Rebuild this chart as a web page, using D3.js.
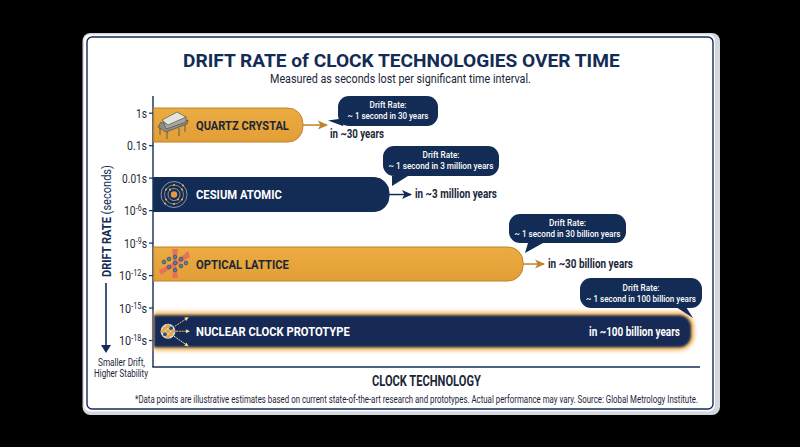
<!DOCTYPE html>
<html><head><meta charset="utf-8">
<script src="https://cdn.jsdelivr.net/npm/d3@7/dist/d3.min.js"></script>
<style>html,body{margin:0;padding:0;background:#000}svg{display:block}text{font-family:Roboto,"Open Sans",sans-serif}</style>
</head><body><svg id="c" width="800" height="447"></svg>
<script>
// ---- data ----
const categories = ["QUARTZ CRYSTAL","CESIUM ATOMIC","OPTICAL LATTICE","NUCLEAR CLOCK PROTOTYPE"];
const barLengths = [27.5, 43.3, 67.9, 98.9];           // share of the x axis
const barCentres = [0.38, 2.52, 4.66, 6.73];           // position in tick steps
const tickLabels = ["1s","0.1s","0.01s","10^-6s","10^-9s","10^-12s","10^-15s","10^-18s"];
const reachLabels = ["in ~30 years","in ~3 million years","in ~30 billion years","in ~100 billion years"];
const calloutLabels = ["~ 1 second in 30 years","~ 1 second in 3 million years","~ 1 second in 30 billion years","~ 1 second in 100 billion years"];

const NAVY="#132c55", ORANGE="#e8a63a", EDGE="#c2822a", INK="#1b2738";
const svg=d3.select("#c");
const defs=svg.append("defs");
const g1=defs.append("linearGradient").attr("id","og").attr("x1",0).attr("y1",0).attr("x2",0).attr("y2",1);
g1.append("stop").attr("offset",0).attr("stop-color","#ecac42");
g1.append("stop").attr("offset",1).attr("stop-color","#e29e36");
defs.append("filter").attr("id","glow").attr("x","-5%").attr("y","-30%").attr("width","110%").attr("height","160%")
  .append("feGaussianBlur").attr("stdDeviation",2.2);
defs.append("filter").attr("id","soft").attr("x","-5%").attr("y","-20%").attr("width","110%").attr("height","140%")
  .append("feGaussianBlur").attr("stdDeviation",0.9);
[["ah-o",EDGE],["ah-n",NAVY]].forEach(([id,c])=>{
  defs.append("marker").attr("id",id).attr("viewBox","0 0 10 10").attr("refX",9).attr("refY",5)
   .attr("markerUnits","userSpaceOnUse").attr("markerWidth",10).attr("markerHeight",10).attr("orient","auto")
   .append("path").attr("d","M0,0.5L10,5L0,9.5L2.5,5Z").attr("fill",c);
});

// ---- card ----
svg.append("rect").attr("width",800).attr("height",447).attr("fill","#000");
svg.append("rect").attr("x",82.5).attr("y",33).attr("width",637.5).attr("height",382).attr("rx",8).attr("fill","#d4d7dc");
svg.append("rect").attr("x",84).attr("y",34.5).attr("width",631).attr("height",377).attr("rx",6).attr("fill","#fff");
svg.append("rect").attr("x",87).attr("y",37).attr("width",626).attr("height",372).attr("rx",5).attr("fill","#fff").attr("stroke",NAVY).attr("stroke-width",1.4);

// text narrowed to the reference's condensed width by a horizontal scale
function squeeze(t,px,py,w,rot){
  const natural=t.node().getComputedTextLength();
  t.attr("transform",`translate(${px},${py})${rot?` rotate(${rot})`:""} scale(${w/natural},1)`);
  return t;
}
function label(x,y,txt,size,w,weight,fill,anchor){
  const t=svg.append("text").attr("font-size",size).attr("font-weight",weight||400)
    .attr("fill",fill||INK).attr("text-anchor",anchor||"start").text(txt);
  return squeeze(t,x,y,w);
}
label(183,66.5,"DRIFT RATE of CLOCK TECHNOLOGIES OVER TIME",19,437,700,NAVY);
label(270,82.5,"Measured as seconds lost per significant time interval.",12.2,261,400,INK);

// ---- scales ----
const x=d3.scaleLinear().domain([0,100]).range([153,698]);
const yStep=d3.scaleLinear().domain([0,7]).range([112.7,340]);
const y=d3.scalePoint().domain(tickLabels).range([112.7,340]);
const BAR_H=34;

// ---- axes ----
const gy=svg.append("g").attr("transform","translate(153,0)").call(d3.axisLeft(y).tickSize(4).tickPadding(2).tickFormat(""));
gy.select(".domain").remove();
gy.selectAll(".tick line").attr("stroke",NAVY).attr("stroke-width",1.2);
gy.selectAll(".tick").each(function(d){
  const tk=d3.select(this); tk.select("text").remove();
  const t=tk.append("text").attr("font-size",12.5).attr("font-family","Roboto").attr("fill",INK).attr("text-anchor","end").attr("dy","0.36em");
  const m=/^10\^(-\d+)s$/.exec(d);
  if(m){ t.append("tspan").text("10");
    t.append("tspan").attr("font-size",8.5).attr("dy",-4).text(m[1]);
    t.append("tspan").attr("dy",4).text("s");
  } else t.text(d);
  const w=m?(m[1].length>2?28:23):({"1s":11,"0.1s":20,"0.01s":25})[d];
  const n=t.node().getComputedTextLength();
  t.attr("transform",`translate(-6,0) scale(${w/n},1)`);
});
svg.append("line").attr("x1",153).attr("x2",153).attr("y1",96).attr("y2",367).attr("stroke",NAVY).attr("stroke-width",1.4);
svg.append("line").attr("x1",152.3).attr("x2",700).attr("y1",367).attr("y2",367).attr("stroke",NAVY).attr("stroke-width",1.4);

label(372,386,"CLOCK TECHNOLOGY",14,109,700,INK);
label(135,403,"*Data points are illustrative estimates based on current state-of-the-art research and prototypes. Actual performance may vary. Source: Global Metrology Institute.",10.5,564,400,INK);

// y axis title
const yt=svg.append("text").attr("font-size",13.5).attr("fill",NAVY);
yt.append("tspan").attr("font-weight",700).text("DRIFT RATE ");
yt.append("tspan").attr("font-weight",400).text("(seconds)");
squeeze(yt,111,277,112,-90);
svg.append("line").attr("x1",106).attr("x2",106).attr("y1",283).attr("y2",347).attr("stroke",NAVY).attr("stroke-width",1.6);
svg.append("path").attr("d",d3.line()([[101,345],[111,345],[106,353]])+"Z").attr("fill",NAVY);
label(121.5,366,"Smaller Drift,",10,47,400,INK,"middle");
label(121,377,"Higher Stability",10,54,400,INK,"middle");

// ---- bars ----
function barPath(x0,x1,y0,y1,r){
  return `M${x0},${y0}H${x1-r}A${r},${r} 0 0 1 ${x1},${y0+r}V${y1-r}A${r},${r} 0 0 1 ${x1-r},${y1}H${x0}Z`;
}
const layers=svg.append("g");
const bars=categories.map((c,i)=>{
  const cy=yStep(barCentres[i]), x1=x(barLengths[i]);
  return {c,i,cy,x1,y0:cy-BAR_H/2,y1:cy+BAR_H/2,odd:i%2===1};
});
bars.filter(b=>b.i===3).forEach(b=>{
  layers.append("path").attr("d",barPath(x(0)+1,b.x1+2,b.y0-2,b.y1+2,15)).attr("fill","#f0ae50").attr("filter","url(#glow)");
});
layers.selectAll("path.bar").data(bars).join("path").attr("class","bar")
  .attr("d",b=>b.i===3?barPath(x(0)+1,b.x1-1,b.y0+1,b.y1-1,12):barPath(x(0)+.7,b.x1,b.y0,b.y1,15))
  .attr("fill",b=>b.odd?NAVY:"url(#og)")
  .attr("stroke",b=>b.odd?(b.i===3?"none":NAVY):EDGE).attr("stroke-width",1)
  .attr("filter",b=>b.i===3?"url(#soft)":null);
const labelW=[93,86,93,154], labelFill=[INK,"#fff",INK,"#fff"], labelDy=[5,4.5,5,4.5];
bars.forEach((b,i)=>label(196,b.cy+labelDy[i],b.c,13.5,labelW[i],700,labelFill[i]));

// ---- arrows to reach labels ----
const arrowLen=[24,22,21];
bars.slice(0,3).forEach((b,i)=>{
  svg.append("line").attr("x1",b.x1).attr("x2",b.x1+arrowLen[i]).attr("y1",b.cy).attr("y2",b.cy)
    .attr("stroke",b.odd?NAVY:EDGE).attr("stroke-width",1.5).attr("marker-end",`url(#ah-${b.odd?"n":"o"})`);
});
const reach=[[330,138,54],[415,198,82],[548,268,85],[589,335.5,91]];
reach.forEach((r,i)=>label(r[0],r[1],reachLabels[i],12,r[2],700,i===3?"#fff":INK));

// ---- callouts ----
const callouts=[
 {x0:338,x1:438,y0:96,y1:126,tail:[[346,118],[328,120.5],[343,126]],head:108,tw:81},
 {x0:383,x1:499,y0:146,y1:176,tail:[[392,176],[392,186],[408,176]],head:158,tw:105},
 {x0:509,x1:626,y0:214,y1:243,tail:[[528,243],[525,253],[543,243]],head:226,tw:106},
 {x0:580,x1:702,y0:278,y1:308,tail:[[686,307],[693,318],[676,307]],head:291,tw:110}
];
callouts.forEach((k,i)=>{
  svg.append("rect").attr("x",k.x0).attr("y",k.y0).attr("width",k.x1-k.x0).attr("height",k.y1-k.y0).attr("rx",11).attr("fill",NAVY);
  svg.append("path").attr("d",d3.line()(k.tail)+"Z").attr("fill",NAVY);
  const cx=(k.x0+k.x1)/2;
  label(cx,k.head,"Drift Rate:",9.5,37,500,"#fff","middle");
  label(cx,k.head+10.7,calloutLabels[i],9.5,k.tw,500,"#fff","middle");
});

// ---- icons ----
(function(){const g=svg.append("g").attr("transform",`translate(174,${bars[0].cy})`);
  [[-14,3,-14,10],[-7,6,-7,14],[5,3,5,11],[11,0,11,7]].forEach(p=>g.append("line").attr("x1",p[0]).attr("y1",p[1]).attr("x2",p[2]).attr("y2",p[3]).attr("stroke","#5d5a50").attr("stroke-width",1));
  g.append("path").attr("d","M-13,-3L-16,2L-8,7L13,-1L14,-5L-5,1Z").attr("fill","#8d8b82").attr("stroke","#4f4d45").attr("stroke-width",.7);
  g.append("path").attr("d","M-11,-5L-8,4L12,-3L12,-8Z").attr("fill","#a8a8a2").attr("stroke","#56544c").attr("stroke-width",.7);
  g.append("path").attr("d","M-12,-5L3,-13L12,-8L-6,0Z").attr("fill","#e3e3df").attr("stroke","#56544c").attr("stroke-width",.7);
})();
(function(){const g=svg.append("g").attr("transform",`translate(174,${bars[1].cy})`);
  [13,9.5,6].forEach((r,i)=>g.append("circle").attr("r",r).attr("fill","none").attr("stroke",i===1?"#d9a654":"#b9c3d3").attr("stroke-width",.7));
  g.append("circle").attr("r",3.2).attr("fill","#e8973a");
  [[0,-9.5],[8,-5],[8,5],[0,9.5],[-8,5],[-8,-5],[9,-9],[-9,9],[-4,-5],[4,5]].forEach(p=>g.append("circle").attr("cx",p[0]).attr("cy",p[1]).attr("r",.95).attr("fill","#efb763"));
})();
(function(){const g=svg.append("g").attr("transform",`translate(175,${bars[2].cy})`);
  g.append("path").attr("d","M-3,-15L3,-15L1,0L3,14L-3,14L-1,0Z").attr("fill","#e8685e").attr("opacity",.85);
  g.append("path").attr("d","M-16,6L-14,11L0,2L15,-7L13,-13L0,-2Z").attr("fill","#e8685e").attr("opacity",.85);
  [[-11,-2],[-6,-5],[0,-1],[6,-5],[11,-1],[-6,3],[0,6],[6,2],[0,-7]].forEach(p=>
    g.append("circle").attr("cx",p[0]).attr("cy",p[1]).attr("r",1.9).attr("fill","#5f7c9b").attr("stroke","#2c4263").attr("stroke-width",.6));
})();
(function(){const g=svg.append("g").attr("transform",`translate(168,${bars[3].cy})`);
  g.append("circle").attr("r",7.5).attr("fill","#d5d9e0");
  [[-3,-3,"#e8a63a"],[3,-3,"#2c4f80"],[-3,3,"#2c4f80"],[3,3,"#e8a63a"],[0,0,"#e8a63a"],[-5,0,"#e8a63a"],[5,0,"#e8a63a"],[0,-5,"#e8a63a"],[0,5,"#e8a63a"]].forEach(p=>
    g.append("circle").attr("cx",p[0]).attr("cy",p[1]).attr("r",2).attr("fill",p[2]));
  [["M7,-5L19,-13","#f0c060"],["M8,0L20,0","#f0c060"],["M6,5L19,14","#e6e2d0"]].forEach(p=>
    g.append("path").attr("d",p[0]).attr("fill","none").attr("stroke",p[1]).attr("stroke-width",1).attr("stroke-dasharray","2 .8"));
  [[19,-13,-30],[20,0,0],[19,14,33]].forEach(p=>
    g.append("path").attr("transform",`translate(${p[0]},${p[1]}) rotate(${p[2]})`).attr("d","M2,0L-2,-2L-2,2Z").attr("fill","#f3d99a"));
})();
</script></body></html>
